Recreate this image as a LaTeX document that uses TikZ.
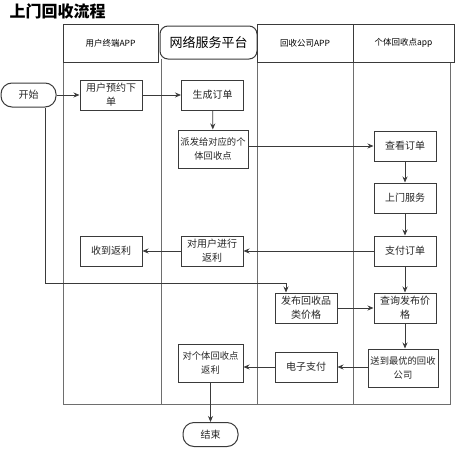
\documentclass[tikz,border=0pt]{standalone}
\usepackage{fontspec}
\setmainfont{Noto Sans CJK SC}
\newfontfamily\cjk{Noto Sans CJK SC}
\usetikzlibrary{arrows.meta}
\definecolor{ln}{HTML}{3A3A3A}
\definecolor{lane}{HTML}{6E6E6E}
\tikzset{
  box/.style={draw=ln, line width=1pt, fill=white, minimum width=62pt, minimum height=30pt, align=center, inner sep=1pt, font=\cjk\fontsize{10}{14}\selectfont, text=black!85},
  wbox/.style={box, minimum height=38pt, minimum width=70pt, font=\cjk\fontsize{9.3}{14}\selectfont},
  term/.style={draw=ln, line width=1pt, fill=white, rounded corners=11pt, minimum width=55pt, minimum height=24pt, font=\cjk\fontsize{10}{12}\selectfont, text=black!85},
  hdr/.style={draw=ln, line width=1pt},
  htext/.style={font=\cjk\fontsize{8.5}{10}\selectfont},
  arr/.style={draw=ln, line width=0.8pt, -{Stealth[length=6pt,width=5pt]}},
  laneln/.style={draw=lane, line width=1pt}
}
\begin{document}
\begin{tikzpicture}[x=1pt,y=-1pt]
\useasboundingbox (0,0) rectangle (455,450);
% title
\node[anchor=west, font=\cjk\bfseries\fontsize{16}{18}\selectfont] (title) at (6,11) {上门回收流程};
% lanes
\draw[laneln] (63,62) -- (63,404) -- (450,404) -- (450,62);
\draw[laneln] (161,59) -- (161,404);
\draw[laneln] (257,62) -- (257,404);
\draw[laneln] (353,62) -- (353,404);
% headers
\draw[hdr] (63,24) rectangle (158,62);
\node[htext] (h1) at (110.5,43) {用户终端APP};
\draw[hdr, rounded corners=8pt, fill=white] (160,26) rectangle (257,59);
\node[font=\cjk\fontsize{13}{15}\selectfont] (h2) at (208.5,42.5) {网络服务平台};
\draw[hdr] (257,24) rectangle (353,62);
\node[htext] (h3) at (305,43) {回收公司APP};
\draw[hdr] (353,24) rectangle (454,62);
\node[htext] (h4) at (403.5,43) {个体回收点app};
% nodes
\node[term] (start) at (28.5,95) {开始};
\node[box] (yy) at (111,95) {用户预约下\\单};
\node[box] (sc) at (212.5,95) {生成订单};
\node[wbox] (pf) at (213,149) {派发给对应的个\\体回收点};
\node[box] (ck) at (405,146) {查看订单};
\node[box] (sm) at (405,198) {上门服务};
\node[box] (zf) at (405,251) {支付订单};
\node[box] (dy) at (212,251) {对用户进行\\返利};
\node[box] (sd) at (111,251) {收到返利};
\node[box] (fb) at (306,308) {发布回收品\\类价格};
\node[box] (cx) at (405,308) {查询发布价\\格};
\node[wbox] (sdz) at (403,368) {送到最优的回收\\公司};
\node[box] (dz) at (306,367) {电子支付};
\node[wbox, minimum width=65pt] (dg) at (210.5,363) {对个体回收点\\返利};
\node[term] (end) at (210.5,434.5) {结束};
\coordinate (c1) at (45,283);
\coordinate (c2) at (286,283);
% connectors
\draw[arr] (start) -- (yy);
\draw[arr] (yy) -- (sc);
\draw[arr] (sc) -- (pf);
\draw[arr] (pf.east |- ck.west) -- (ck.west);
\draw[arr] (ck) -- (sm);
\draw[arr] (sm) -- (zf);
\draw[arr] (zf) -- (dy);
\draw[arr] (dy) -- (sd);
\draw[arr] (zf) -- (cx);
\draw[arr] (fb) -- (cx);
\draw[arr] (cx) -- (cx |- sdz.north);
\draw[arr] (sdz.west |- dz.east) -- (dz.east);
\draw[arr] (dz.west) -- (dz.west -| dg.east);
\draw[arr] (dg) -- (end);
\draw[arr] (start.south -| c1) -- (c1) -- (c2) -- (c2 |- fb.north);
\end{tikzpicture}
\end{document}
